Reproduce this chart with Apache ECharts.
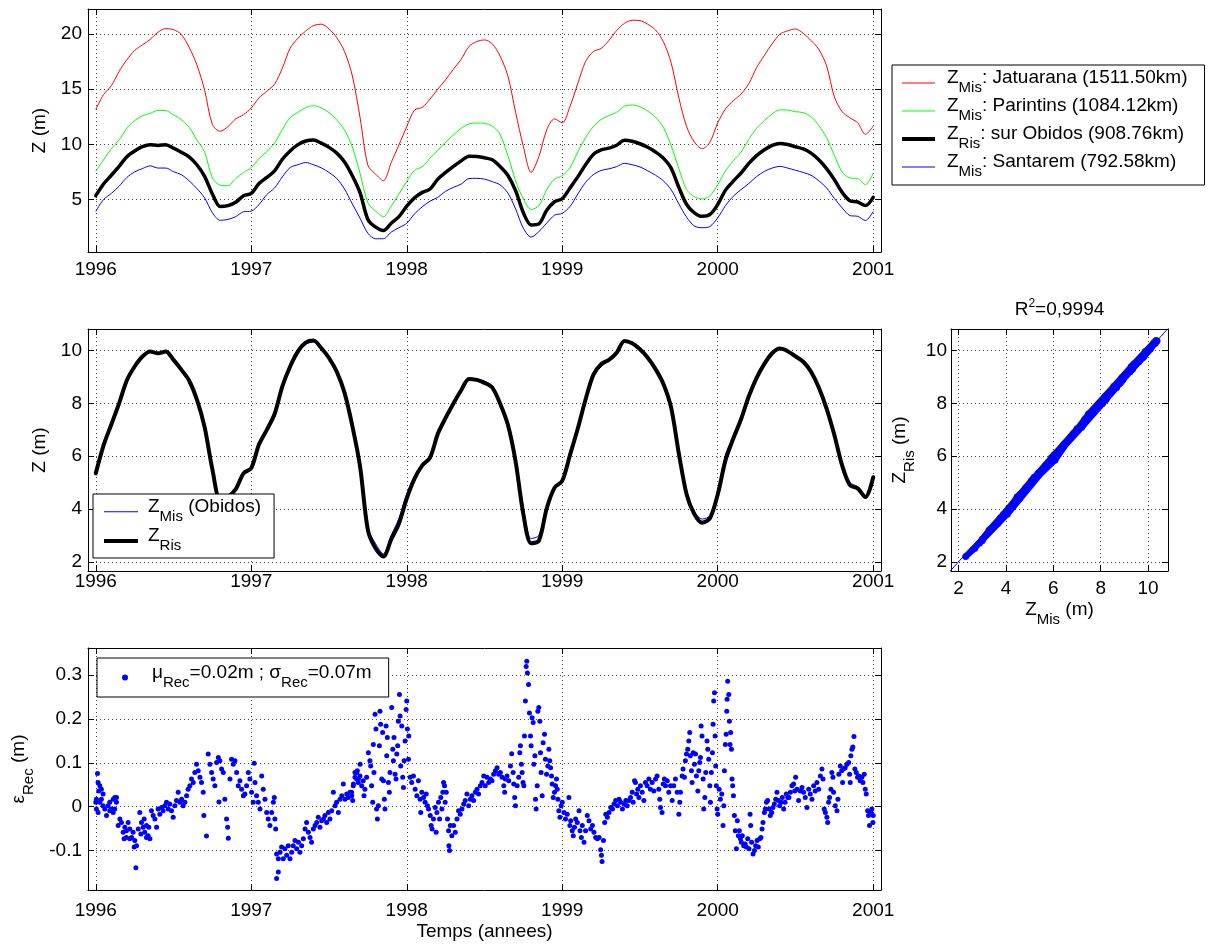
<!DOCTYPE html>
<html><head><meta charset="utf-8">
<script src="https://cdn.jsdelivr.net/npm/echarts@6/dist/echarts.min.js"></script>
<style>html,body{margin:0;padding:0;background:#fff}#c{width:1208px;height:944px}</style>
</head><body><div id="c"></div>
<script>
// ---------- data ----------
const times = [1996,1996.05,1996.1,1996.15,1996.2,1996.25,1996.3,1996.35,1996.4,1996.45,
1996.5,1996.55,1996.6,1996.65,1996.7,1996.75,1996.8,1996.85,1996.9,1996.95,
1997,1997.05,1997.1,1997.15,1997.2,1997.25,1997.3,1997.35,1997.4,1997.45,
1997.5,1997.55,1997.6,1997.65,1997.7,1997.75,1997.8,1997.85,1997.9,1997.95,
1998,1998.05,1998.1,1998.15,1998.2,1998.25,1998.3,1998.35,1998.4,1998.45,
1998.5,1998.55,1998.6,1998.65,1998.7,1998.75,1998.8,1998.85,1998.9,1998.95,
1999,1999.05,1999.1,1999.15,1999.2,1999.25,1999.3,1999.35,1999.4,1999.45,
1999.5,1999.55,1999.6,1999.65,1999.7,1999.75,1999.8,1999.85,1999.9,1999.95,
2000,2000.05,2000.1,2000.15,2000.2,2000.25,2000.3,2000.35,2000.4,2000.45,
2000.5,2000.55,2000.6,2000.65,2000.7,2000.75,2000.8,2000.85,2000.9,2000.95,
2001];

const zJatuarana = [13.15,14.5,15.3,16.6,17.65,18.5,19.0,19.5,20.15,20.47,
20.38,19.95,18.8,17.2,14.9,11.8,11.18,11.6,12.3,12.68,
13.28,14.2,14.8,15.45,16.9,18.7,19.6,20.25,20.75,20.88,
20.45,19.65,18.4,16.2,12.4,8.1,7.3,6.7,8.35,9.95,
11.6,13.1,13.35,14.1,15.0,15.85,16.8,17.7,18.85,19.3,
19.45,19.1,18.0,16.2,12.9,9.8,7.45,8.9,11.3,12.3,
11.95,13.44,15.5,17.5,18.4,18.68,19.4,20.3,20.95,21.23,
21.2,20.87,20.35,19.3,17.4,14.2,11.6,10.2,9.6,10.2,
11.95,13.2,13.95,14.55,15.5,16.95,18.05,19.1,19.97,20.27,
20.45,20.05,19.4,18.6,17.1,14.3,12.95,12.4,11.95,10.9,
11.65];

const zParintins = [7.55,8.6,9.6,10.4,11.45,12.15,12.58,12.8,13.07,13.05,
12.67,12.24,11.55,10.4,9.3,6.95,6.3,6.25,6.9,7.45,
7.9,8.7,9.35,10.1,11.35,12.4,12.9,13.32,13.5,13.3,
12.88,12.2,11.3,9.75,7.35,4.7,3.95,3.45,4.4,5.5,
6.65,7.65,7.97,8.75,9.45,10.2,10.85,11.45,11.85,11.93,
11.9,11.65,10.9,9.0,6.7,5.05,4.1,4.45,5.9,6.85,
7.15,7.9,9.3,10.6,11.6,12.25,12.6,12.9,13.45,13.56,
13.4,13.0,12.45,11.55,9.9,7.8,5.9,5.25,5.05,5.35,
6.35,7.6,8.5,9.3,10.45,11.45,12.15,12.75,13.12,13.1,
12.95,12.87,12.5,11.7,10.6,9.0,7.5,6.95,6.9,6.35,
7.4];

const zRisObidos = [5.35,6.41,7.2,8.0,8.88,9.4,9.78,9.97,9.9,9.97,
9.65,9.28,8.87,8.15,7.1,5.5,4.37,4.45,4.75,5.35,
5.55,6.45,7.0,7.6,8.65,9.4,9.97,10.3,10.38,10.1,
9.72,9.2,8.4,7.15,5.6,3.2,2.5,2.2,2.85,3.45,
4.4,5.15,5.65,5.95,6.85,7.45,8.0,8.5,8.93,8.89,
8.78,8.6,8.0,7.2,5.8,3.8,2.7,2.8,4.02,4.8,
5.07,6.05,7.05,8.15,9.08,9.49,9.65,9.92,10.37,10.28,
10.05,9.73,9.3,8.75,7.85,6.1,4.55,3.8,3.48,3.65,
4.55,5.85,6.67,7.4,8.27,8.97,9.5,9.9,10.08,9.98,
9.78,9.58,9.2,8.6,7.8,6.8,5.65,4.9,4.78,4.45,
5.2];

const zSantarem = [3.92,5.0,5.55,6.2,7.0,7.5,7.8,8.05,7.85,7.85,
7.52,7.25,6.7,6.0,5.15,3.8,3.12,3.2,3.45,3.9,
3.95,4.55,5.45,6.05,7.05,7.9,8.15,8.35,8.15,7.87,
7.45,6.9,5.95,4.6,3.3,1.95,1.45,1.45,2.05,2.45,
2.85,3.7,4.35,4.85,5.2,5.75,6.1,6.4,6.9,6.92,
6.85,6.62,6.33,5.6,4.15,2.4,1.6,2.1,2.86,3.58,
3.75,4.37,5.5,6.55,7.25,7.63,7.78,7.98,8.28,8.15,
7.95,7.6,7.2,6.7,5.9,4.6,3.4,2.6,2.45,2.56,
3.35,4.45,5.3,5.9,6.45,7.08,7.55,7.85,8.0,7.85,
7.65,7.45,7.2,6.7,6.05,5.1,4.25,3.55,3.48,3.1,
3.92];

const zMisObidos = [5.36,6.42,7.2,7.96,8.83,9.33,9.74,9.95,9.89,9.97,
9.65,9.29,8.91,8.23,7.2,5.58,4.42,4.47,4.82,5.38,
5.59,6.45,6.98,7.48,8.55,9.29,9.88,10.24,10.33,10.07,
9.7,9.21,8.42,7.2,5.67,3.29,2.68,2.3,3.0,3.65,
4.58,5.2,5.67,5.92,6.84,7.47,7.94,8.5,8.95,8.92,
8.84,8.67,8.08,7.26,5.89,4.06,2.88,3.0,4.12,4.83,
5.07,6.02,7.01,8.11,9.02,9.39,9.63,9.92,10.38,10.31,
10.09,9.78,9.35,8.78,7.89,6.12,4.68,3.9,3.62,3.75,
4.58,6.07,6.71,7.33,8.19,8.89,9.49,9.9,10.09,10.0,
9.83,9.61,9.24,8.66,7.79,6.84,5.73,5.0,4.85,4.48,
5.18];

// residuals eps_Rec (m), 1996.0 - 1997.7
const resTimeA = [1996.004,1996.000,1996.004,1996.011,1996.015,1996.015,1996.019,1996.026,1996.026,1996.036,
1996.036,1996.047,1996.047,1996.058,1996.069,1996.079,1996.090,1996.090,1996.101,1996.112,
1996.112,1996.122,1996.122,1996.133,1996.133,1996.144,1996.155,1996.165,1996.176,1996.182,
1996.187,1996.197,1996.197,1996.208,1996.219,1996.219,1996.230,1996.240,1996.247,1996.251,
1996.258,1996.262,1996.273,1996.283,1996.290,1996.294,1996.305,1996.311,1996.315,1996.326,
1996.326,1996.337,1996.341,1996.348,1996.358,1996.369,1996.380,1996.391,1996.401,1996.412,
1996.423,1996.433,1996.444,1996.455,1996.466,1996.476,1996.487,1996.498,1996.509,1996.519,
1996.530,1996.541,1996.552,1996.562,1996.573,1996.584,1996.594,1996.605,1996.616,1996.627,
1996.637,1996.648,1996.659,1996.670,1996.680,1996.691,1996.695,1996.712,1996.723,1996.734,
1996.745,1996.755,1996.766,1996.777,1996.788,1996.792,1996.798,1996.809,1996.820,1996.830,
1996.841,1996.848,1996.852,1996.863,1996.873,1996.884,1996.895,1996.906,1996.916,1996.927,
1996.938,1996.949,1996.959,1996.970,1996.981,1996.991,1997.002,1997.013,1997.019,1997.024,
1997.034,1997.045,1997.056,1997.067,1997.077,1997.088,1997.099,1997.109,1997.120,1997.131,
1997.142,1997.148,1997.152,1997.157,1997.163,1997.163,1997.174,1997.174,1997.185,1997.195,
1997.206,1997.217,1997.228,1997.238,1997.249,1997.260,1997.270,1997.281,1997.292,1997.303,
1997.313,1997.324,1997.335,1997.346,1997.356,1997.367,1997.378,1997.388,1997.399,1997.410,
1997.421,1997.431,1997.442,1997.453,1997.464,1997.474,1997.485,1997.496,1997.506,1997.517,
1997.528,1997.539,1997.549,1997.560,1997.571,1997.582,1997.592,1997.603,1997.614,1997.624,
1997.635,1997.646,1997.657,1997.667,1997.678,1997.689,1997.700];
const resValueA = [0.017,0.010,-0.005,0.076,0.055,-0.013,0.036,0.048,0.010,0.040,
0.017,0.029,0.002,-0.005,-0.020,0.002,0.010,-0.009,-0.005,0.017,
-0.013,0.021,-0.005,0.010,0.021,-0.043,-0.028,-0.036,-0.058,-0.073,
-0.047,-0.055,-0.070,-0.036,-0.051,-0.073,-0.070,-0.058,-0.092,-0.077,
-0.139,-0.089,-0.051,-0.013,-0.062,-0.036,-0.047,-0.028,-0.058,-0.070,
-0.043,-0.066,-0.047,-0.073,-0.009,-0.020,-0.028,-0.047,-0.005,-0.017,
-0.002,-0.009,0.002,0.010,-0.005,0.006,-0.009,-0.024,0.002,0.014,
0.033,0.010,0.017,0.002,0.010,0.025,0.040,0.048,0.063,0.055,
0.078,0.097,0.082,0.067,0.055,0.033,-0.020,-0.067,0.120,0.097,
0.078,0.063,0.048,0.101,0.112,0.011,0.105,0.086,0.078,0.017,
-0.028,-0.047,-0.072,0.063,0.108,0.097,0.105,0.078,0.048,0.059,
0.040,0.025,0.029,0.048,0.078,0.063,0.033,0.010,0.099,0.055,
0.025,0.010,-0.005,0.070,0.040,0.017,-0.013,-0.028,-0.043,-0.013,
0.010,0.021,-0.028,-0.051,-0.108,-0.164,-0.119,-0.149,-0.104,-0.092,
-0.119,-0.096,-0.111,-0.089,-0.119,-0.104,-0.089,-0.077,-0.096,-0.081,
-0.104,-0.089,-0.073,-0.051,-0.036,-0.058,-0.070,-0.081,-0.051,-0.043,
-0.036,-0.024,-0.047,-0.032,-0.028,-0.020,-0.036,-0.013,-0.028,-0.009,
0.033,0.002,0.010,-0.013,0.017,0.025,0.052,0.017,0.029,0.021,
0.033,0.025,0.052,0.067,0.078,0.063,0.097];

// residuals 1997.65 - 1999.4
const resTimeB = [1997.645,1997.652,1997.656,1997.667,1997.678,1997.682,1997.688,1997.699,1997.710,1997.720,
1997.725,1997.731,1997.742,1997.753,1997.763,1997.768,1997.774,1997.781,1997.785,1997.789,
1997.796,1997.802,1997.806,1997.811,1997.817,1997.824,1997.828,1997.832,1997.839,1997.845,
1997.850,1997.856,1997.860,1997.867,1997.871,1997.875,1997.882,1997.888,1997.892,1997.903,
1997.910,1997.914,1997.918,1997.925,1997.931,1997.936,1997.942,1997.946,1997.953,1997.957,
1997.961,1997.968,1997.974,1997.979,1997.983,1997.989,1997.996,1998.000,1998.004,1998.011,
1998.013,1998.022,1998.032,1998.043,1998.054,1998.065,1998.075,1998.086,1998.090,1998.097,
1998.108,1998.118,1998.125,1998.133,1998.140,1998.151,1998.157,1998.163,1998.172,1998.183,
1998.189,1998.194,1998.204,1998.211,1998.219,1998.226,1998.232,1998.237,1998.243,1998.247,
1998.254,1998.262,1998.269,1998.271,1998.275,1998.280,1998.290,1998.301,1998.312,1998.323,
1998.333,1998.344,1998.355,1998.366,1998.376,1998.387,1998.398,1998.409,1998.419,1998.430,
1998.441,1998.452,1998.462,1998.473,1998.484,1998.495,1998.505,1998.516,1998.527,1998.538,
1998.548,1998.559,1998.570,1998.581,1998.591,1998.602,1998.613,1998.624,1998.630,1998.634,
1998.645,1998.656,1998.667,1998.675,1998.684,1998.688,1998.694,1998.699,1998.710,1998.720,
1998.727,1998.731,1998.737,1998.742,1998.748,1998.753,1998.757,1998.763,1998.768,1998.772,
1998.776,1998.783,1998.789,1998.796,1998.800,1998.806,1998.813,1998.817,1998.824,1998.828,
1998.832,1998.839,1998.843,1998.849,1998.856,1998.860,1998.864,1998.871,1998.877,1998.886,
1998.892,1998.899,1998.907,1998.914,1998.920,1998.925,1998.931,1998.935,1998.942,1998.950,
1998.957,1998.963,1998.968,1998.972,1998.978,1998.985,1998.993,1999.000,1999.011,1999.021,
1999.032,1999.043,1999.049,1999.054,1999.064,1999.071,1999.079,1999.086,1999.097,1999.108,
1999.114,1999.123,1999.129,1999.140,1999.150,1999.161,1999.172,1999.183,1999.194,1999.204,
1999.215,1999.226,1999.237,1999.247,1999.252,1999.256,1999.265,1999.273,1999.280,1999.290,
1999.301,1999.312,1999.323,1999.333,1999.344,1999.355,1999.366,1999.376,1999.387,1999.398,
1999.409];
const resValueB = [0.033,0.014,0.048,0.078,0.063,0.082,0.055,0.070,0.048,0.059,
0.025,0.040,0.067,0.123,0.105,0.093,0.048,0.010,0.142,0.078,
0.211,0.177,-0.005,-0.028,0.002,0.139,0.218,0.188,0.063,0.169,
0.059,0.017,-0.005,0.184,0.116,0.158,0.055,0.033,0.078,0.226,
0.131,0.105,0.158,0.074,0.063,0.120,0.139,0.195,0.256,0.207,
0.093,0.184,0.067,0.044,0.105,0.150,0.222,0.241,0.177,0.108,
0.161,0.067,0.055,0.070,0.040,0.025,0.059,0.017,-0.013,0.033,
0.021,0.010,0.029,0.002,-0.005,-0.020,-0.043,-0.051,-0.028,-0.002,
-0.058,-0.013,0.010,-0.028,0.021,-0.005,0.033,0.055,0.048,0.010,
0.033,-0.028,-0.055,-0.089,-0.100,-0.043,-0.066,-0.043,-0.058,-0.028,
-0.009,-0.017,-0.005,0.006,0.014,0.029,0.002,0.017,0.025,0.014,
0.033,0.040,0.029,0.048,0.055,0.070,0.048,0.067,0.055,0.063,
0.059,0.074,0.082,0.089,0.074,0.078,0.067,0.048,0.033,0.063,
0.070,0.059,0.093,0.121,0.078,0.052,0.021,0.002,0.048,0.067,
0.123,0.139,0.097,0.078,0.055,0.048,0.161,0.241,0.320,0.332,
0.305,0.279,0.214,0.161,0.139,0.203,0.192,0.097,0.116,0.017,
-0.005,0.048,0.218,0.226,0.195,0.123,0.078,0.025,0.146,0.165,
0.108,0.074,0.093,0.131,0.105,0.089,0.070,0.052,0.021,0.033,
0.048,0.063,0.040,0.017,-0.009,-0.024,0.002,0.010,-0.013,-0.028,
-0.017,0.021,-0.043,-0.032,-0.055,-0.066,-0.047,-0.028,-0.036,-0.009,
-0.055,-0.070,-0.043,-0.081,-0.055,-0.020,-0.032,-0.051,-0.043,-0.058,
-0.070,-0.073,-0.070,-0.098,-0.111,-0.125,-0.077,-0.036,-0.017,-0.024,
-0.013,-0.002,-0.005,0.006,0.014,0.002,0.017,0.010,-0.005,0.006,
0.014];

// residuals 1999.4 - 2001.0
const resTimeC = [1999.418,1999.428,1999.439,1999.450,1999.456,1999.465,1999.471,1999.478,1999.486,1999.493,
1999.503,1999.514,1999.525,1999.535,1999.546,1999.557,1999.567,1999.578,1999.589,1999.600,
1999.610,1999.621,1999.627,1999.632,1999.642,1999.649,1999.657,1999.664,1999.675,1999.685,
1999.696,1999.707,1999.717,1999.728,1999.739,1999.750,1999.756,1999.760,1999.771,1999.777,
1999.786,1999.792,1999.799,1999.807,1999.814,1999.820,1999.824,1999.831,1999.835,1999.842,
1999.850,1999.857,1999.863,1999.872,1999.878,1999.884,1999.889,1999.893,1999.899,1999.906,
1999.910,1999.917,1999.923,1999.931,1999.936,1999.942,1999.949,1999.953,1999.959,1999.966,
1999.970,1999.974,1999.979,1999.983,1999.987,1999.991,1999.996,2000.000,2000.009,2000.017,
2000.026,2000.034,2000.039,2000.043,2000.049,2000.054,2000.058,2000.060,2000.064,2000.071,
2000.075,2000.079,2000.083,2000.088,2000.092,2000.096,2000.101,2000.107,2000.113,2000.120,
2000.126,2000.133,2000.139,2000.146,2000.152,2000.158,2000.167,2000.176,2000.184,2000.193,
2000.201,2000.208,2000.212,2000.218,2000.227,2000.236,2000.244,2000.253,2000.261,2000.270,
2000.278,2000.285,2000.291,2000.300,2000.306,2000.313,2000.321,2000.330,2000.338,2000.347,
2000.355,2000.364,2000.373,2000.381,2000.390,2000.398,2000.407,2000.415,2000.424,2000.433,
2000.441,2000.450,2000.458,2000.467,2000.477,2000.488,2000.495,2000.501,2000.510,2000.520,
2000.531,2000.542,2000.552,2000.563,2000.574,2000.585,2000.595,2000.606,2000.617,2000.627,
2000.638,2000.649,2000.660,2000.670,2000.677,2000.685,2000.692,2000.702,2000.707,2000.713,
2000.719,2000.728,2000.734,2000.741,2000.745,2000.756,2000.767,2000.773,2000.779,2000.788,
2000.797,2000.803,2000.809,2000.820,2000.831,2000.842,2000.848,2000.852,2000.856,2000.863,
2000.869,2000.876,2000.882,2000.891,2000.899,2000.908,2000.916,2000.927,2000.934,2000.942,
2000.949,2000.955,2000.964,2000.970,2000.976,2000.985,2000.991,2000.998,2001.000];
const resValueC = [0.002,0.014,0.021,0.033,0.010,0.059,0.055,0.029,0.040,0.021,
0.048,0.033,0.014,0.055,0.048,0.063,0.040,0.055,0.036,0.063,
0.070,0.040,0.017,-0.002,-0.013,0.052,0.063,0.048,0.059,0.033,
0.048,0.014,0.048,0.063,0.033,-0.017,0.010,0.033,0.070,0.086,
0.067,0.105,0.120,0.131,0.150,0.169,0.116,0.082,0.055,0.123,
0.097,0.120,0.070,0.036,0.082,0.101,0.112,0.184,0.161,0.063,
-0.005,0.021,0.078,0.150,0.131,0.108,0.048,0.010,0.078,0.123,
0.188,0.241,0.260,0.161,0.093,0.048,-0.005,-0.017,0.040,0.017,
0.029,-0.043,0.002,0.082,0.142,0.165,0.218,0.245,0.286,0.256,
0.195,0.142,0.169,0.131,0.063,0.048,0.025,-0.020,-0.055,-0.096,
-0.032,-0.066,-0.055,-0.073,-0.081,-0.066,-0.089,-0.085,-0.092,-0.073,
-0.096,-0.017,-0.043,-0.081,-0.108,-0.100,-0.089,-0.077,-0.092,-0.073,
-0.070,-0.051,-0.036,-0.013,-0.005,0.010,0.014,-0.005,-0.020,-0.013,
-0.002,0.006,0.017,0.033,0.014,0.002,0.010,0.021,-0.005,0.010,
0.029,0.021,0.021,0.033,0.048,0.052,0.036,0.067,0.040,0.014,
0.036,0.044,0.033,0.021,-0.002,0.040,0.029,0.017,0.048,0.036,
0.055,0.040,0.070,0.086,0.063,-0.005,-0.013,-0.024,-0.036,0.010,
0.021,0.040,0.078,0.067,0.033,0.002,-0.009,0.017,0.074,0.093,
0.082,0.055,0.086,0.089,0.097,0.101,0.074,0.055,0.116,0.131,
0.136,0.160,0.086,0.078,0.067,0.070,0.059,0.067,0.055,0.074,
0.040,0.029,-0.009,-0.020,-0.043,-0.013,-0.005,-0.036,-0.020];

// tick labels
const yearTicks = [1996, 1997, 1998, 1999, 2000, 2001];
const zTopTicks = [5, 10, 15, 20];
const zTicks = [2, 4, 6, 8, 10];
const resTicks = [-0.1, 0, 0.1, 0.2, 0.3];
const r2Text = '0,9994';

// axis limits
const T_MIN = 1995.95, T_MAX = 2001.05;
const ZTOP_MIN = 0.25, ZTOP_MAX = 22.25;
const Z_MIN = 1.65, Z_MAX = 10.82;
const ZX_MIN = 1.68, ZX_MAX = 10.84;
const RES_MIN = -0.19, RES_MAX = 0.362;

// ---------- chart ----------
const FONT = '"Liberation Sans", Arial, Helvetica, sans-serif';
function rich(leftPad) {
  return {
    z: {fontFamily: FONT, fontSize: 19, color: '#000', lineHeight: 16, padding: [0, 0, 10, leftPad]},
    s: {fontFamily: FONT, fontSize: 15, color: '#000', lineHeight: 16, padding: [10, 0, 0, 0]},
    t: {fontFamily: FONT, fontSize: 19, color: '#000', lineHeight: 16, padding: [0, 0, 10, 0]}
  };
}
function pairs(xs, ys) { return xs.map((x, i) => [x, ys[i]]); }

function axis(g, pos, min, max, ticks, opt) {
  opt = opt || {};
  const main = !!opt.main;
  const a = {
    type: 'value', gridIndex: g, position: pos, min: min, max: max,
    axisLine: {show: true, onZero: false, lineStyle: {color: '#000', width: 1}},
    axisTick: {show: true, inside: true, length: 6, customValues: ticks, lineStyle: {color: '#000', width: 1}},
    axisLabel: {show: main, customValues: ticks, margin: opt.margin === undefined ? 6 : opt.margin,
      color: '#000', fontFamily: FONT, fontSize: 19, lineHeight: 20, formatter: v => String(v)},
    splitLine: {show: main, lineStyle: {color: '#444', width: 1, type: [1, 3]}},
    axisPointer: {show: false}
  };
  if (opt.name) {
    a.name = opt.name; a.nameLocation = 'middle'; a.nameGap = opt.nameGap;
    a.nameTextStyle = {color: '#000', fontFamily: FONT, fontSize: 19, lineHeight: 20};
    if (opt.rich) a.nameTextStyle.rich = opt.rich;
  }
  return a;
}

const legendTextTop = {
  jat: '{z|Z}{s|Mis}{t|: Jatuarana (1511.50km)}',
  par: '{z|Z}{s|Mis}{t|: Parintins (1084.12km)}',
  ris: '{z|Z}{s|Ris}{t|: sur Obidos (908.76km)}',
  san: '{z|Z}{s|Mis}{t|: Santarem (792.58km)}'
};
const legendTextMid = {
  misObi: '{z|Z}{s|Mis}{t| (Obidos)}',
  ris2: '{z|Z}{s|Ris}'
};
const legendTextBot = {
  res: '{z|\u03bc}{s|Rec}{t|=0.02m ; \u03c3}{s|Rec}{t|=0.07m}'
};
const THIN = 'path://M0,0H33V1H0Z';
const THICK = 'path://M0,0H33V4H0Z';

const chart = echarts.init(document.getElementById('c'), null, {renderer: 'canvas'});
chart.setOption({
  animation: false,
  backgroundColor: '#fff',
  grid: [
    {left: 88, top: 9, width: 793, height: 243},
    {left: 88, top: 329, width: 793, height: 242},
    {left: 951, top: 329, width: 217, height: 242},
    {left: 88, top: 648, width: 793, height: 242}
  ],
  xAxis: [
    axis(0, 'bottom', T_MIN, T_MAX, yearTicks, {main: true, margin: 8}),
    axis(0, 'top', T_MIN, T_MAX, yearTicks),
    axis(1, 'bottom', T_MIN, T_MAX, yearTicks, {main: true, margin: 1}),
    axis(1, 'top', T_MIN, T_MAX, yearTicks),
    axis(2, 'bottom', ZX_MIN, ZX_MAX, zTicks, {main: true, margin: 8,
      name: '{z|Z}{s|Mis}{t| (m)}', nameGap: 29, rich: rich(0)}),
    axis(2, 'top', ZX_MIN, ZX_MAX, zTicks),
    axis(3, 'bottom', T_MIN, T_MAX, yearTicks, {main: true, margin: 11, name: 'Temps (annees)', nameGap: 30}),
    axis(3, 'top', T_MIN, T_MAX, yearTicks)
  ],
  yAxis: [
    axis(0, 'left', ZTOP_MIN, ZTOP_MAX, zTopTicks, {main: true, margin: 6, name: 'Z (m)', nameGap: 37}),
    axis(0, 'right', ZTOP_MIN, ZTOP_MAX, zTopTicks),
    axis(1, 'left', Z_MIN, Z_MAX, zTicks, {main: true, margin: 6, name: 'Z (m)', nameGap: 37}),
    axis(1, 'right', Z_MIN, Z_MAX, zTicks),
    axis(2, 'left', Z_MIN, Z_MAX, zTicks, {main: true, margin: 4,
      name: '{z|Z}{s|Ris}{t| (m)}', nameGap: 38, rich: rich(0)}),
    axis(2, 'right', Z_MIN, Z_MAX, zTicks),
    axis(3, 'left', RES_MIN, RES_MAX, resTicks, {main: true, margin: 6,
      name: '{z|\u03b5}{s|Rec}{t| (m)}', nameGap: 47, rich: rich(0)}),
    axis(3, 'right', RES_MIN, RES_MAX, resTicks)
  ],
  graphic: [{
    type: 'text', x: 1059.5, y: 298, silent: true,
    style: {
      text: '{a|R}{p|2}{a|=' + r2Text + '}', align: 'center', verticalAlign: 'top',
      rich: {
        a: {fontFamily: FONT, fontSize: 19, color: '#000', lineHeight: 18, padding: [6, 0, 0, 0]},
        p: {fontFamily: FONT, fontSize: 12, color: '#000', lineHeight: 18, padding: [0, 0, 6, 0]}
      }
    }
  }],
  legend: [
    {
      orient: 'vertical', left: 892, top: 65, padding: [3.5, 17, 3.5, 10], itemGap: -1,
      itemWidth: 33, itemHeight: 14, selectedMode: false, symbolKeepAspect: true,
      borderColor: '#000', borderWidth: 1, backgroundColor: '#fff',
      data: [
        {name: 'jat', icon: THIN},
        {name: 'par', icon: THIN},
        {name: 'ris', icon: THICK},
        {name: 'san', icon: THIN}
      ],
      formatter: n => legendTextTop[n],
      textStyle: {color: '#000', fontFamily: FONT, fontSize: 19, rich: rich(7)}
    },
    {
      orient: 'vertical', left: 93, top: 494, padding: [3.2, 13, 2.5, 11], itemGap: 0.3,
      itemWidth: 34, itemHeight: 14, selectedMode: false, symbolKeepAspect: true,
      borderColor: '#000', borderWidth: 1, backgroundColor: '#fff',
      data: [
        {name: 'misObi', icon: THIN},
        {name: 'ris2', icon: THICK}
      ],
      formatter: n => legendTextMid[n],
      textStyle: {color: '#000', fontFamily: FONT, fontSize: 19, rich: rich(5)}
    },
    {
      orient: 'vertical', left: 97, top: 658, padding: [5, 17, 5, 25], itemGap: 0,
      itemWidth: 6, itemHeight: 6, selectedMode: false, icon: 'circle',
      borderColor: '#000', borderWidth: 1, backgroundColor: '#fff',
      data: ['res'],
      formatter: n => legendTextBot[n],
      textStyle: {color: '#000', fontFamily: FONT, fontSize: 19, rich: rich(19)}
    }
  ],
  series: [
    {type: 'line', name: 'jat', xAxisIndex: 0, yAxisIndex: 0, data: pairs(times, zJatuarana), smooth: 0.3,
      symbol: 'none', lineStyle: {color: '#ff0000', width: 1}, itemStyle: {color: '#ff0000'}, silent: true},
    {type: 'line', name: 'par', xAxisIndex: 0, yAxisIndex: 0, data: pairs(times, zParintins), smooth: 0.3,
      symbol: 'none', lineStyle: {color: '#00ff00', width: 1}, itemStyle: {color: '#00ff00'}, silent: true},
    {type: 'line', name: 'ris', xAxisIndex: 0, yAxisIndex: 0, data: pairs(times, zRisObidos), smooth: 0.3,
      symbol: 'none', lineStyle: {color: '#000', width: 3.5, join: 'round', cap: 'round'}, itemStyle: {color: '#000'}, silent: true},
    {type: 'line', name: 'san', xAxisIndex: 0, yAxisIndex: 0, data: pairs(times, zSantarem), smooth: 0.3,
      symbol: 'none', lineStyle: {color: '#0000ff', width: 1}, itemStyle: {color: '#0000ff'}, silent: true},

    {type: 'line', name: 'misObi', xAxisIndex: 2, yAxisIndex: 2, data: pairs(times, zMisObidos), smooth: 0.3,
      symbol: 'none', lineStyle: {color: '#0000ff', width: 1}, itemStyle: {color: '#0000ff'}, silent: true},
    {type: 'line', name: 'ris2', xAxisIndex: 2, yAxisIndex: 2, data: pairs(times, zRisObidos), smooth: 0.3,
      symbol: 'none', lineStyle: {color: '#000', width: 4, join: 'round', cap: 'round'}, itemStyle: {color: '#000'}, silent: true},

    {type: 'line', name: 'diag', xAxisIndex: 4, yAxisIndex: 4,
      data: [[Math.min(ZX_MIN, Z_MIN), Math.min(ZX_MIN, Z_MIN)], [Math.max(ZX_MAX, Z_MAX), Math.max(ZX_MAX, Z_MAX)]],
      symbol: 'none', lineStyle: {color: '#0000ff', width: 1}, clip: true, silent: true},
    {type: 'line', name: 'scatBand', xAxisIndex: 4, yAxisIndex: 4, data: pairs(zMisObidos, zRisObidos),
      symbol: 'none', lineStyle: {color: '#0000ff', width: 6, join: 'round', cap: 'round'}, silent: true},
    {type: 'scatter', name: 'scat', xAxisIndex: 4, yAxisIndex: 4, data: pairs(zMisObidos, zRisObidos),
      symbol: 'circle', symbolSize: 7, itemStyle: {color: '#0000ff'}, silent: true},

    {type: 'scatter', name: 'res', xAxisIndex: 6, yAxisIndex: 6,
      data: pairs(resTimeA.concat(resTimeB, resTimeC), resValueA.concat(resValueB, resValueC)),
      symbol: 'circle', symbolSize: 5, itemStyle: {color: '#0000ff', opacity: 1}, silent: true}
  ]
});
</script>
</body></html>
